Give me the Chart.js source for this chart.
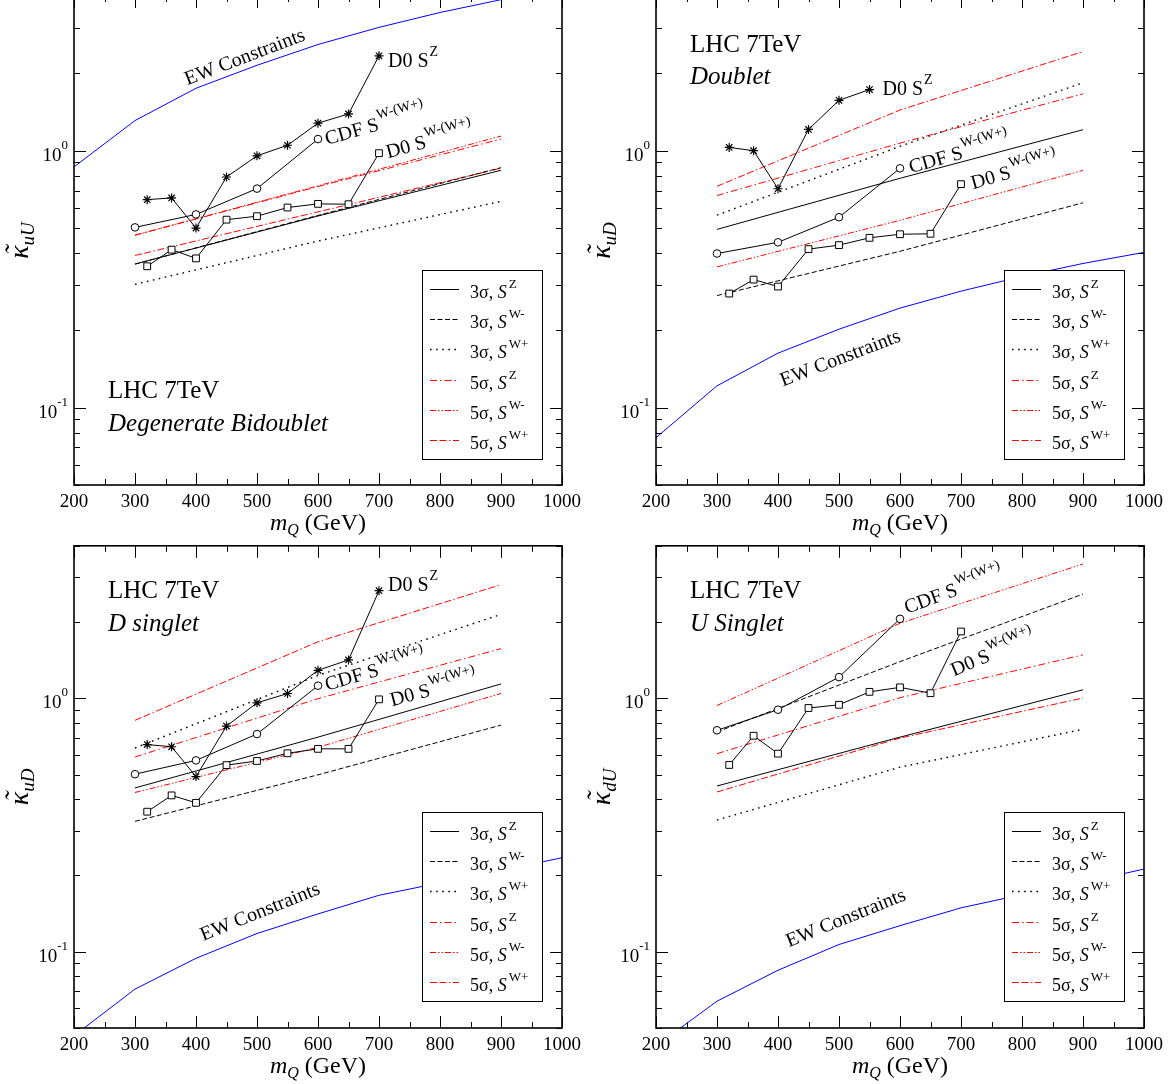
<!DOCTYPE html>
<html>
<head>
<meta charset="utf-8">
<title>LHC 7TeV discovery reach</title>
<script src="https://cdn.jsdelivr.net/npm/chart.js@4.4.1/dist/chart.umd.min.js"></script>
<style>
  body { margin: 0; background: #fff; }
  #page { position: relative; width: 1172px; height: 1084px; overflow: hidden; background: #fff; }
  canvas { position: absolute; }
</style>
</head>
<body>
<div id="page">
  <canvas id="c1"></canvas>
  <canvas id="c2"></canvas>
  <canvas id="c3"></canvas>
  <canvas id="c4"></canvas>
</div>
<script>
// masses (GeV) where each kind of curve is given
const ewMass = [200, 300, 400, 500, 600, 700, 800, 900, 1000];
const d0Mass = [320, 360, 400, 450, 500, 550, 600, 650, 700];
const cdfMass = [300, 400, 500, 600];
const reachMass = [300, 600, 900];

// axis ticks
const xTickValues = [200, 300, 400, 500, 600, 700, 800, 900, 1000];
const xTickLabels = ['200', '300', '400', '500', '600', '700', '800', '900', '1000'];
const yTickValues = [0.1, 1];
const yTickExps = ['-1', '0'];

// legend texts
const legendSigma = ['3σ', '3σ', '3σ', '5σ', '5σ', '5σ'];
const legendChannel = ['Z', 'W-', 'W+', 'Z', 'W-', 'W+'];

// Degenerate Bidoublet (kappa_uU)
const ewBidoublet = [0.865, 1.31, 1.75, 2.15, 2.59, 3.02, 3.45, 3.87, 4.3];
const d0zBidoublet = [0.645, 0.655, 0.5, 0.79, 0.955, 1.05, 1.28, 1.39, 2.34];
const cdfBidoublet = [0.503, 0.565, 0.712, 1.11];
const d0wBidoublet = [0.355, 0.412, 0.381, 0.539, 0.556, 0.601, 0.621, 0.619, 0.978];
const s3zBidoublet = [0.362, 0.557, 0.839];
const s3wmBidoublet = [0.362, 0.56, 0.859];
const s3wpBidoublet = [0.302, 0.445, 0.635];
const s5zBidoublet = [0.469, 0.725, 1.11];
const s5wmBidoublet = [0.469, 0.73, 1.14];
const s5wpBidoublet = [0.391, 0.578, 0.855];

// Doublet (kappa_uD)
const ewDoublet = [0.0764, 0.1216, 0.163, 0.202, 0.244, 0.284, 0.324, 0.364, 0.402];
const d0zDoublet = [1.03, 1.0, 0.711, 1.21, 1.57, 1.73];
const cdfDoublet = [0.398, 0.44, 0.551, 0.854];
const d0wDoublet = [0.278, 0.315, 0.296, 0.414, 0.429, 0.458, 0.473, 0.475, 0.741];
const s3zDoublet = [0.494, 0.781, 1.207];
const s3wmDoublet = [0.273, 0.406, 0.627];
const s3wpDoublet = [0.561, 1.04, 1.838];
const s5zDoublet = [0.669, 1.07, 1.665];
const s5wmDoublet = [0.353, 0.536, 0.838];
const s5wpDoublet = [0.727, 1.44, 2.43];

// D singlet (kappa_uD)
const ewDSinglet = [0.0466, 0.0712, 0.0942, 0.118, 0.141, 0.167, 0.187, 0.209, 0.235];
const d0zDSinglet = [0.657, 0.644, 0.491, 0.777, 0.96, 1.045, 1.29, 1.418, 2.66];
const cdfDSinglet = [0.502, 0.569, 0.723, 1.122];
const d0wDSinglet = [0.357, 0.414, 0.387, 0.545, 0.566, 0.607, 0.632, 0.632, 0.991];
const s3zDSinglet = [0.443, 0.703, 1.14];
const s3wmDSinglet = [0.327, 0.499, 0.784];
const s3wpDSinglet = [0.637, 1.232, 2.146];
const s5zDSinglet = [0.587, 0.997, 1.571];
const s5wmDSinglet = [0.425, 0.641, 1.045];
const s5wpDSinglet = [0.819, 1.672, 2.81];

// U Singlet (kappa_dU)
const ewUSinglet = [0.0425, 0.0638, 0.0845, 0.1068, 0.1267, 0.149, 0.168, 0.187, 0.212];
const cdfUSinglet = [0.748, 0.902, 1.213, 2.06];
const d0wUSinglet = [0.546, 0.712, 0.605, 0.916, 0.943, 1.061, 1.105, 1.048, 1.836];
const s3zUSinglet = [0.451, 0.703, 1.081];
const s3wmUSinglet = [0.737, 1.396, 2.58];
const s3wpUSinglet = [0.331, 0.535, 0.755];
const s5zUSinglet = [0.605, 1.006, 1.485];
const s5wmUSinglet = [0.937, 1.979, 3.39];
const s5wpUSinglet = [0.427, 0.697, 1.003];

// line styles, same order as the legend
const lineStyles = [
  { color: 'rgb(0,0,0)', dash: [], width: 1 },
  { color: 'rgb(0,0,0)', dash: [5, 2.5], width: 1 },
  { color: 'rgb(0,0,0)', dash: [1.6, 4.5], width: 1.4 },
  { color: 'rgb(255,0,0)', dash: [7, 3, 1.5, 3], width: 1 },
  { color: 'rgb(255,0,0)', dash: [6, 2, 1.5, 2, 1.5, 2], width: 1 },
  { color: 'rgb(255,0,0)', dash: [7, 2.5, 7, 2.5, 1.5, 2.5], width: 1 }
];

// panel layout (page pixels) and texts
const panels = [
  {
    id: 'c1', canvas: [0, -20, 586, 560], area: [74, -4, 562, 485], legendInset: 26,
    sub: 'uU', model: 'Degenerate Bidoublet', modelY: [402, 435],
    ew: ewBidoublet, d0z: d0zBidoublet, cdf: cdfBidoublet, d0w: d0wBidoublet,
    reach: [s3zBidoublet, s3wmBidoublet, s3wpBidoublet, s5zBidoublet, s5wmBidoublet, s5wpBidoublet],
    notes: [
      { series: 'd0z', text: 'D0 S', sup: 'Z', dx: 9, dy: 11, rot: 0 },
      { series: 'cdf', text: 'CDF S', sup: 'W-(W+)', dx: 9, dy: 6, rot: -16 },
      { series: 'd0w', text: 'D0 S', sup: 'W-(W+)', dx: 9, dy: 5, rot: -15 },
      { at: [480, 2.32], text: 'EW Constraints', rot: -21 }
    ]
  },
  {
    id: 'c2', canvas: [586, -20, 586, 560], area: [656, -4, 1144, 485], legendInset: 26,
    sub: 'uD', model: 'Doublet', modelY: [56, 88],
    ew: ewDoublet, d0z: d0zDoublet, cdf: cdfDoublet, d0w: d0wDoublet,
    reach: [s3zDoublet, s3wmDoublet, s3wpDoublet, s5zDoublet, s5wmDoublet, s5wpDoublet],
    notes: [
      { series: 'd0z', text: 'D0 S', sup: 'Z', dx: 13, dy: 5, rot: 0 },
      { series: 'cdf', text: 'CDF S', sup: 'W-(W+)', dx: 11, dy: 5, rot: -16 },
      { series: 'd0w', text: 'D0 S', sup: 'W-(W+)', dx: 12, dy: 5, rot: -16 },
      { at: [502, 0.156], text: 'EW Constraints', rot: -21 }
    ]
  },
  {
    id: 'c3', canvas: [0, 540, 586, 544], area: [74, 541, 562, 1028], legendInset: 27,
    sub: 'uD', model: 'D singlet', modelY: [52, 85],
    ew: ewDSinglet, d0z: d0zDSinglet, cdf: cdfDSinglet, d0w: d0wDSinglet,
    reach: [s3zDSinglet, s3wmDSinglet, s3wpDSinglet, s5zDSinglet, s5wmDSinglet, s5wpDSinglet],
    notes: [
      { series: 'd0z', text: 'D0 S', sup: 'Z', dx: 9, dy: 0, rot: 0 },
      { series: 'cdf', text: 'CDF S', sup: 'W-(W+)', dx: 9, dy: 5, rot: -16 },
      { series: 'd0w', text: 'D0 S', sup: 'W-(W+)', dx: 13, dy: 7, rot: -15 },
      { at: [505, 0.144], text: 'EW Constraints', rot: -22 }
    ]
  },
  {
    id: 'c4', canvas: [586, 540, 586, 544], area: [656, 541, 1144, 1028], legendInset: 27,
    sub: 'dU', model: 'U Singlet', modelY: [52, 85],
    ew: ewUSinglet, d0z: null, cdf: cdfUSinglet, d0w: d0wUSinglet,
    reach: [s3zUSinglet, s3wmUSinglet, s3wpUSinglet, s5zUSinglet, s5wmUSinglet, s5wpUSinglet],
    notes: [
      { series: 'cdf', text: 'CDF S', sup: 'W-(W+)', dx: 7, dy: -5, rot: -20 },
      { series: 'd0w', text: 'D0 S', sup: 'W-(W+)', dx: -7, dy: 45, rot: -23 },
      { at: [511, 0.136], text: 'EW Constraints', rot: -22 }
    ]
  }
];

const seriesMass = { d0z: d0Mass, cdf: cdfMass, d0w: d0Mass };

const serif = '"Liberation Serif", "Times New Roman", Times, serif';
const font = (size, style) => (style ? style + ' ' : '') + size + 'px ' + serif;

// draws text pieces one after another (for sub/superscripts)
function drawRich(ctx, x, y, parts) {
  let cx = x;
  parts.forEach(part => {
    ctx.font = part.font;
    cx += part.gap || 0;
    ctx.fillText(part.text, cx, y + (part.dy || 0));
    cx += ctx.measureText(part.text).width;
  });
}

function richWidth(ctx, parts) {
  let w = 0;
  parts.forEach(part => {
    ctx.font = part.font;
    w += ctx.measureText(part.text).width + (part.gap || 0);
  });
  return w;
}

function toPoints(xs, ys) {
  return ys.map((v, i) => ({ x: xs[i], y: v }));
}

// frame, ticks, labels, legend and notes of one panel
function decorPlugin(p) {
  return {
    id: 'decor',
    afterDatasetsDraw(chart) {
      const { ctx, chartArea: a, scales: { x, y } } = chart;
      ctx.save();
      ctx.fillStyle = '#000';
      ctx.strokeStyle = '#000';
      ctx.textAlign = 'left';
      ctx.textBaseline = 'alphabetic';

      // notes next to the curves
      p.notes.forEach(n => {
        let px, py;
        if (n.series) {
          const vals = p[n.series];
          const last = vals.length - 1;
          px = x.getPixelForValue(seriesMass[n.series][last]);
          py = y.getPixelForValue(vals[last]);
        } else {
          px = x.getPixelForValue(n.at[0]);
          py = y.getPixelForValue(n.at[1]);
        }
        const parts = [{ text: n.text, font: font(20) }];
        if (n.sup) parts.push({ text: n.sup, font: font(14), dy: -11, gap: 1 });
        ctx.save();
        ctx.translate(px + (n.dx || 0), py + (n.dy || 0));
        ctx.rotate(n.rot * Math.PI / 180);
        if (n.series) {
          drawRich(ctx, 0, 0, parts);
        } else {
          drawRich(ctx, -richWidth(ctx, parts) / 2, 6, parts);
        }
        ctx.restore();
      });

      // model name
      ctx.font = font(25);
      ctx.fillText('LHC 7TeV', a.left + 34, a.top + p.modelY[0]);
      ctx.font = font(25, 'italic');
      ctx.fillText(p.model, a.left + 34, a.top + p.modelY[1]);

      // legend box
      const bw = 120, bh = 189;
      const bx = a.right - 20 - bw, by = a.bottom - p.legendInset - bh;
      ctx.fillStyle = '#fff';
      ctx.fillRect(bx, by, bw, bh);
      ctx.lineWidth = 1;
      ctx.strokeStyle = '#000';
      ctx.strokeRect(bx + 0.5, by + 0.5, bw, bh);
      for (let i = 0; i < legendSigma.length; i++) {
        const ry = Math.round(by + 19 + i * 30.2) + 0.5;
        const st = lineStyles[i];
        ctx.save();
        ctx.strokeStyle = st.color;
        ctx.lineWidth = st.width;
        ctx.setLineDash(st.dash);
        ctx.beginPath();
        ctx.moveTo(bx + 8, ry);
        ctx.lineTo(bx + 37, ry);
        ctx.stroke();
        ctx.restore();
        ctx.fillStyle = '#000';
        drawRich(ctx, bx + 48, ry + 8, [
          { text: legendSigma[i] + ', ', font: font(18) },
          { text: 'S', font: font(18, 'italic') },
          { text: legendChannel[i], font: font(13), dy: -10, gap: 2 }
        ]);
      }
      ctx.setLineDash([]);
      ctx.strokeStyle = '#000';

      // ticks pointing inward on all four sides
      ctx.lineWidth = 1;
      ctx.beginPath();
      for (let m = 200; m <= 1000; m += 50) {
        const px = Math.round(x.getPixelForValue(m)) + 0.5;
        const len = m % 100 === 0 ? 12 : 6;
        ctx.moveTo(px, a.bottom); ctx.lineTo(px, a.bottom - len);
        ctx.moveTo(px, a.top); ctx.lineTo(px, a.top + len);
      }
      for (let d = -2; d <= 1; d++) {
        for (let k = 1; k <= 9; k++) {
          const v = k * Math.pow(10, d);
          if (v < y.min || v > y.max) continue;
          const py = Math.round(y.getPixelForValue(v)) + 0.5;
          const len = k === 1 ? 12 : 6;
          ctx.moveTo(a.left, py); ctx.lineTo(a.left + len, py);
          ctx.moveTo(a.right, py); ctx.lineTo(a.right - len, py);
        }
      }
      ctx.stroke();

      // frame
      ctx.lineWidth = 1.6;
      ctx.strokeRect(a.left, a.top, a.right - a.left, a.bottom - a.top);

      // x tick labels
      ctx.fillStyle = '#000';
      ctx.font = font(19);
      ctx.textAlign = 'center';
      xTickValues.forEach((m, i) => {
        ctx.fillText(xTickLabels[i], x.getPixelForValue(m), a.bottom + 22);
      });

      // y tick labels 10^n
      ctx.textAlign = 'left';
      yTickValues.forEach((v, i) => {
        const py = y.getPixelForValue(v);
        const parts = [
          { text: '10', font: font(19), dy: 10 },
          { text: yTickExps[i], font: font(13), dy: -2 }
        ];
        drawRich(ctx, a.left - 6 - richWidth(ctx, parts), py, parts);
      });

      // x title
      const xt = [
        { text: 'm', font: font(24, 'italic') },
        { text: 'Q', font: font(16, 'italic'), dy: 5 },
        { text: ' (GeV)', font: font(24) }
      ];
      drawRich(ctx, (a.left + a.right) / 2 - richWidth(ctx, xt) / 2, a.bottom + 45, xt);

      // y title, rotated
      ctx.save();
      ctx.translate(a.left - 52, (a.top + a.bottom) / 2);
      ctx.rotate(-Math.PI / 2);
      const yt = [
        { text: 'κ', font: font(28, 'italic'), dy: 6 },
        { text: p.sub, font: font(19, 'italic'), dy: 12 }
      ];
      const x0 = -richWidth(ctx, yt) / 2;
      drawRich(ctx, x0, 0, yt);
      ctx.font = font(28, 'italic');
      const kw = ctx.measureText('κ').width;
      ctx.textAlign = 'center';
      ctx.fillText('˜', x0 + kw / 2 + 2, 2);
      ctx.restore();

      ctx.restore();
    }
  };
}

function makeChart(p) {
  const canvas = document.getElementById(p.id);
  const [cl, ct, cw, ch] = p.canvas;
  const [al, at, ar, ab] = p.area;
  canvas.width = cw;
  canvas.height = ch;
  canvas.style.left = cl + 'px';
  canvas.style.top = ct + 'px';
  canvas.style.width = cw + 'px';
  canvas.style.height = ch + 'px';

  const datasets = [];
  if (p.d0z) {
    datasets.push({
      label: 'D0 S^Z',
      data: toPoints(d0Mass, p.d0z),
      borderColor: '#000', borderWidth: 1,
      pointStyle: 'star', pointRadius: 4.5, pointBorderWidth: 1.2,
      pointBorderColor: '#000', pointBackgroundColor: '#000'
    });
  }
  datasets.push({
    label: 'CDF S^W-(W+)',
    data: toPoints(cdfMass, p.cdf),
    borderColor: '#000', borderWidth: 1,
    pointStyle: 'circle', pointRadius: 3.8, pointBorderWidth: 1,
    pointBorderColor: '#000', pointBackgroundColor: '#fff'
  });
  datasets.push({
    label: 'D0 S^W-(W+)',
    data: toPoints(d0Mass, p.d0w),
    borderColor: '#000', borderWidth: 1,
    pointStyle: 'rect', pointRadius: 4.8, pointBorderWidth: 1,
    pointBorderColor: '#000', pointBackgroundColor: '#fff'
  });
  p.reach.forEach((vals, i) => {
    datasets.push({
      label: legendSigma[i] + ', S^' + legendChannel[i],
      data: toPoints(reachMass, vals),
      borderColor: lineStyles[i].color,
      borderDash: lineStyles[i].dash.slice(),
      borderWidth: lineStyles[i].width,
      pointRadius: 0
    });
  });
  datasets.push({
    label: 'EW Constraints',
    data: toPoints(ewMass, p.ew),
    borderColor: '#0000ff', borderWidth: 1,
    pointRadius: 0
  });

  return new Chart(canvas.getContext('2d'), {
    type: 'line',
    data: { datasets },
    options: {
      responsive: false,
      animation: false,
      events: [],
      layout: { padding: { left: 0, top: at - ct, right: cl + cw - ar, bottom: 0 } },
      plugins: { legend: { display: false }, tooltip: { enabled: false } },
      elements: { line: { tension: 0, fill: false } },
      scales: {
        x: {
          type: 'linear', min: 200, max: 1000,
          grid: { display: false }, border: { display: false },
          ticks: { display: false },
          afterFit: scale => { scale.height = ct + ch - ab; }
        },
        y: {
          type: 'logarithmic', min: 0.05, max: 4,
          grid: { display: false }, border: { display: false },
          ticks: { display: false },
          afterFit: scale => { scale.width = al - cl; }
        }
      }
    },
    plugins: [decorPlugin(p)]
  });
}

panels.forEach(makeChart);
</script>
</body>
</html>
